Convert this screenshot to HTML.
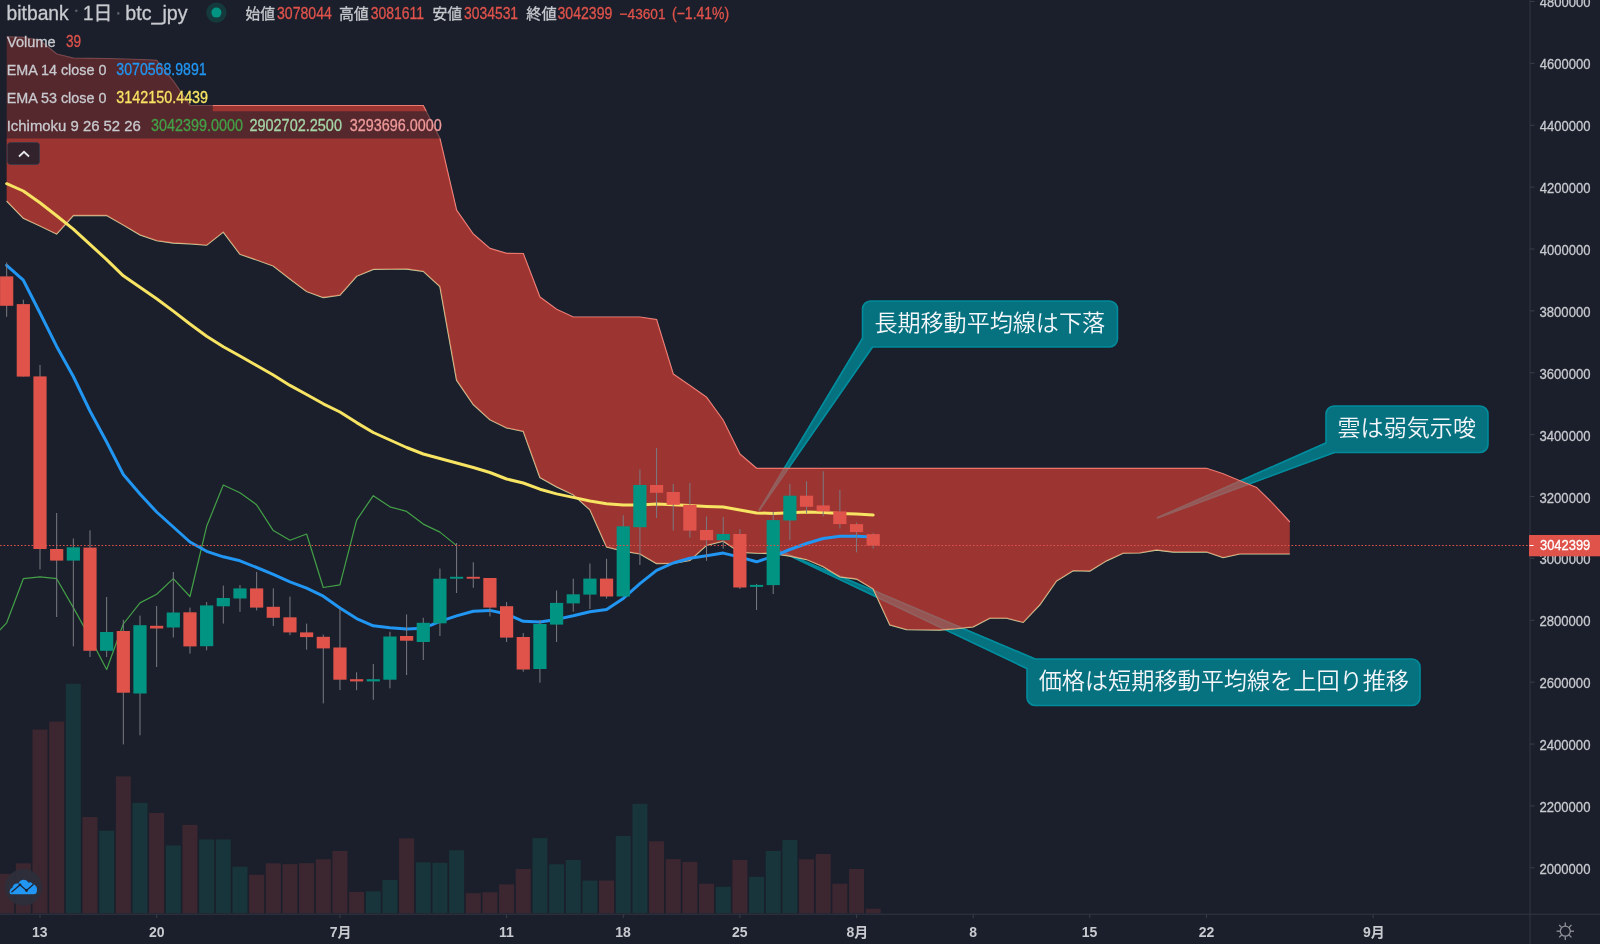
<!DOCTYPE html><html><head><meta charset="utf-8"><style>html,body{margin:0;padding:0;background:#1b1f2b;}body{width:1600px;height:944px;overflow:hidden;position:relative;}svg{position:absolute;left:0;top:0;will-change:transform;}</style></head><body>
<svg width="1600" height="944" viewBox="0 0 1600 944">
<defs><clipPath id="cp"><rect x="0" y="0" width="1529.5" height="913.5"/></clipPath></defs>
<g clip-path="url(#cp)">
<rect x="-0.83" y="873.9" width="15" height="39.6" fill="rgba(239,83,80,0.16)"/>
<rect x="15.83" y="863.3" width="15" height="50.2" fill="rgba(239,83,80,0.16)"/>
<rect x="32.5" y="729.6" width="15" height="183.9" fill="rgba(239,83,80,0.16)"/>
<rect x="49.16" y="721.6" width="15" height="191.9" fill="rgba(239,83,80,0.16)"/>
<rect x="65.83" y="683.8" width="15" height="229.7" fill="rgba(8,153,129,0.18)"/>
<rect x="82.49" y="817" width="15" height="96.5" fill="rgba(239,83,80,0.16)"/>
<rect x="99.15" y="830.7" width="15" height="82.8" fill="rgba(8,153,129,0.18)"/>
<rect x="115.82" y="776.4" width="15" height="137.1" fill="rgba(239,83,80,0.16)"/>
<rect x="132.48" y="802.9" width="15" height="110.6" fill="rgba(8,153,129,0.18)"/>
<rect x="149.15" y="813" width="15" height="100.5" fill="rgba(239,83,80,0.16)"/>
<rect x="165.81" y="845.5" width="15" height="68" fill="rgba(8,153,129,0.18)"/>
<rect x="182.47" y="824.9" width="15" height="88.6" fill="rgba(239,83,80,0.16)"/>
<rect x="199.14" y="839.4" width="15" height="74.1" fill="rgba(8,153,129,0.18)"/>
<rect x="215.8" y="839.4" width="15" height="74.1" fill="rgba(8,153,129,0.18)"/>
<rect x="232.47" y="866.7" width="15" height="46.8" fill="rgba(8,153,129,0.18)"/>
<rect x="249.13" y="874.7" width="15" height="38.8" fill="rgba(239,83,80,0.16)"/>
<rect x="265.79" y="863.3" width="15" height="50.2" fill="rgba(239,83,80,0.16)"/>
<rect x="282.46" y="864.2" width="15" height="49.3" fill="rgba(239,83,80,0.16)"/>
<rect x="299.12" y="863.2" width="15" height="50.3" fill="rgba(239,83,80,0.16)"/>
<rect x="315.79" y="859.3" width="15" height="54.2" fill="rgba(239,83,80,0.16)"/>
<rect x="332.45" y="851" width="15" height="62.5" fill="rgba(239,83,80,0.16)"/>
<rect x="349.11" y="891.9" width="15" height="21.6" fill="rgba(239,83,80,0.16)"/>
<rect x="365.78" y="891.3" width="15" height="22.2" fill="rgba(8,153,129,0.18)"/>
<rect x="382.44" y="879.9" width="15" height="33.6" fill="rgba(8,153,129,0.18)"/>
<rect x="399.11" y="838.4" width="15" height="75.1" fill="rgba(239,83,80,0.16)"/>
<rect x="415.77" y="862.3" width="15" height="51.2" fill="rgba(8,153,129,0.18)"/>
<rect x="432.43" y="862.8" width="15" height="50.7" fill="rgba(8,153,129,0.18)"/>
<rect x="449.1" y="850.3" width="15" height="63.2" fill="rgba(8,153,129,0.18)"/>
<rect x="465.76" y="893.2" width="15" height="20.3" fill="rgba(239,83,80,0.16)"/>
<rect x="482.43" y="892.3" width="15" height="21.2" fill="rgba(239,83,80,0.16)"/>
<rect x="499.09" y="884.4" width="15" height="29.1" fill="rgba(239,83,80,0.16)"/>
<rect x="515.75" y="869" width="15" height="44.5" fill="rgba(239,83,80,0.16)"/>
<rect x="532.42" y="838.1" width="15" height="75.4" fill="rgba(8,153,129,0.18)"/>
<rect x="549.08" y="864.3" width="15" height="49.2" fill="rgba(8,153,129,0.18)"/>
<rect x="565.75" y="860" width="15" height="53.5" fill="rgba(8,153,129,0.18)"/>
<rect x="582.41" y="880.6" width="15" height="32.9" fill="rgba(8,153,129,0.18)"/>
<rect x="599.07" y="880.6" width="15" height="32.9" fill="rgba(239,83,80,0.16)"/>
<rect x="615.74" y="836" width="15" height="77.5" fill="rgba(8,153,129,0.18)"/>
<rect x="632.4" y="803.8" width="15" height="109.7" fill="rgba(8,153,129,0.18)"/>
<rect x="649.07" y="841.3" width="15" height="72.2" fill="rgba(239,83,80,0.16)"/>
<rect x="665.73" y="859.1" width="15" height="54.4" fill="rgba(239,83,80,0.16)"/>
<rect x="682.39" y="861.9" width="15" height="51.6" fill="rgba(239,83,80,0.16)"/>
<rect x="699.06" y="883.8" width="15" height="29.7" fill="rgba(239,83,80,0.16)"/>
<rect x="715.72" y="886.8" width="15" height="26.7" fill="rgba(8,153,129,0.18)"/>
<rect x="732.39" y="860" width="15" height="53.5" fill="rgba(239,83,80,0.16)"/>
<rect x="749.05" y="876.9" width="15" height="36.6" fill="rgba(8,153,129,0.18)"/>
<rect x="765.71" y="851" width="15" height="62.5" fill="rgba(8,153,129,0.18)"/>
<rect x="782.38" y="839.9" width="15" height="73.6" fill="rgba(8,153,129,0.18)"/>
<rect x="799.04" y="859.3" width="15" height="54.2" fill="rgba(239,83,80,0.16)"/>
<rect x="815.71" y="854" width="15" height="59.5" fill="rgba(239,83,80,0.16)"/>
<rect x="832.37" y="883.8" width="15" height="29.7" fill="rgba(239,83,80,0.16)"/>
<rect x="849.03" y="869" width="15" height="44.5" fill="rgba(239,83,80,0.16)"/>
<rect x="865.7" y="908.8" width="15" height="4.7" fill="rgba(239,83,80,0.16)"/>
<path d="M759 510.5 L862.5 338.5 L872.5 347 Z" fill="#067280" stroke="#018b9b" stroke-width="1.6"/><rect x="862.5" y="301" width="255" height="46" rx="8" fill="#067280" stroke="#018b9b" stroke-width="1.6"/><path d="M759 510.5 L862.5 338.5 L872.5 347 Z" fill="#067280"/><path d="M862.5 338.5 L759 510.5 L872.5 347" stroke="#018b9b" stroke-width="1.6" fill="none"/>
<path d="M1157 518 L1326 443 L1334.2 452.5 Z" fill="#067280" stroke="#018b9b" stroke-width="1.6"/><rect x="1326" y="406" width="162" height="46.5" rx="8" fill="#067280" stroke="#018b9b" stroke-width="1.6"/><path d="M1157 518 L1326 443 L1334.2 452.5 Z" fill="#067280"/><path d="M1326 443 L1157 518 L1334.2 452.5" stroke="#018b9b" stroke-width="1.6" fill="none"/>
<path d="M780 551 L1035 659 L1027 668.5 Z" fill="#067280" stroke="#018b9b" stroke-width="1.6"/><rect x="1027" y="659" width="393" height="46.5" rx="8" fill="#067280" stroke="#018b9b" stroke-width="1.6"/><path d="M780 551 L1035 659 L1027 668.5 Z" fill="#067280"/><path d="M1035 659 L780 551 L1027 668.5" stroke="#018b9b" stroke-width="1.6" fill="none"/>
<polyline points="6.67,36.9 23.33,37.4 40,40.5 56.66,54 73.33,58.1 89.99,58.3 106.65,58.5 123.32,59 139.98,59.5 156.65,60.4 173.31,81 189.97,105.3 206.64,105.5 223.3,105.5 239.97,105.5 256.63,105.5 273.29,105.5 289.96,105.5 306.62,105.5 323.29,105.5 339.95,105.5 356.61,105.5 373.28,105.5 389.94,105.5 406.61,105.5 423.27,105.5 439.93,138.5 456.6,210.2 473.26,234 489.93,248.4 506.59,253.3 523.25,253.5 539.92,297 556.58,309.2 573.25,317 589.91,317 606.57,317 623.24,317 639.9,317 656.57,319.6 673.23,374 689.89,385.4 706.56,397.3 723.22,420.2 739.89,454 756.55,468.3 773.21,468.3 789.88,468.3 806.54,468.3 823.21,468.3 839.87,468.3 856.53,468.3 873.2,468.3 889.86,468.3 906.53,468.3 923.19,468.3 939.85,468.3 956.52,468.3 973.18,468.3 989.85,468.3 1006.51,468.3 1023.17,468.3 1039.84,468.3 1056.5,468.3 1073.17,468.3 1089.83,468.3 1106.49,468.3 1123.16,468.3 1139.82,468.3 1156.49,468.3 1173.15,468.3 1189.81,468.3 1206.48,468.3 1223.14,473.8 1239.81,480.8 1256.47,487.4 1273.13,503.8 1289.8,522" fill="none" stroke="#e8948e" stroke-width="1.2"/>
<polyline points="6.67,201 23.33,218.2 40,226 56.66,234 73.33,215.5 89.99,215.5 106.65,215.5 123.32,225 139.98,234.8 156.65,240.7 173.31,243 189.97,243.8 206.64,245.2 223.3,232.1 239.97,254.3 256.63,260 273.29,266 289.96,279 306.62,291.5 323.29,297.5 339.95,295.2 356.61,276.2 373.28,269.3 389.94,269.2 406.61,269 423.27,271.3 439.93,286.6 456.6,380.2 473.26,404.6 489.93,419.8 506.59,427.9 523.25,431.4 539.92,477.5 556.58,486.8 573.25,494.7 589.91,509.8 606.57,547 623.24,551.1 639.9,553.9 656.57,563.5 673.23,563.4 689.89,560.4 706.56,545.3 723.22,541.2 739.89,552.3 756.55,553.1 773.21,553.5 789.88,556 806.54,559.5 823.21,566.7 839.87,576.8 856.53,579 873.2,589 889.86,625 906.53,629.6 923.19,629.8 939.85,630 956.52,628.7 973.18,626.8 989.85,618.2 1006.51,618.2 1023.17,622.4 1039.84,604.8 1056.5,581 1073.17,570.7 1089.83,571 1106.49,560.8 1123.16,553.2 1139.82,552.9 1156.49,550 1173.15,552 1189.81,552 1206.48,552 1223.14,557.6 1239.81,553.9 1256.47,553.9 1273.13,553.9 1289.8,553.9" fill="none" stroke="#c5d6a0" stroke-width="1.3"/>
<polygon points="6.67,36.9 23.33,37.4 40,40.5 56.66,54 73.33,58.1 89.99,58.3 106.65,58.5 123.32,59 139.98,59.5 156.65,60.4 173.31,81 189.97,105.3 206.64,105.5 223.3,105.5 239.97,105.5 256.63,105.5 273.29,105.5 289.96,105.5 306.62,105.5 323.29,105.5 339.95,105.5 356.61,105.5 373.28,105.5 389.94,105.5 406.61,105.5 423.27,105.5 439.93,138.5 456.6,210.2 473.26,234 489.93,248.4 506.59,253.3 523.25,253.5 539.92,297 556.58,309.2 573.25,317 589.91,317 606.57,317 623.24,317 639.9,317 656.57,319.6 673.23,374 689.89,385.4 706.56,397.3 723.22,420.2 739.89,454 756.55,468.3 773.21,468.3 789.88,468.3 806.54,468.3 823.21,468.3 839.87,468.3 856.53,468.3 873.2,468.3 889.86,468.3 906.53,468.3 923.19,468.3 939.85,468.3 956.52,468.3 973.18,468.3 989.85,468.3 1006.51,468.3 1023.17,468.3 1039.84,468.3 1056.5,468.3 1073.17,468.3 1089.83,468.3 1106.49,468.3 1123.16,468.3 1139.82,468.3 1156.49,468.3 1173.15,468.3 1189.81,468.3 1206.48,468.3 1223.14,473.8 1239.81,480.8 1256.47,487.4 1273.13,503.8 1289.8,522 1289.8,553.9 1273.13,553.9 1256.47,553.9 1239.81,553.9 1223.14,557.6 1206.48,552 1189.81,552 1173.15,552 1156.49,550 1139.82,552.9 1123.16,553.2 1106.49,560.8 1089.83,571 1073.17,570.7 1056.5,581 1039.84,604.8 1023.17,622.4 1006.51,618.2 989.85,618.2 973.18,626.8 956.52,628.7 939.85,630 923.19,629.8 906.53,629.6 889.86,625 873.2,589 856.53,579 839.87,576.8 823.21,566.7 806.54,559.5 789.88,556 773.21,553.5 756.55,553.1 739.89,552.3 723.22,541.2 706.56,545.3 689.89,560.4 673.23,563.4 656.57,563.5 639.9,553.9 623.24,551.1 606.57,547 589.91,509.8 573.25,494.7 556.58,486.8 539.92,477.5 523.25,431.4 506.59,427.9 489.93,419.8 473.26,404.6 456.6,380.2 439.93,286.6 423.27,271.3 406.61,269 389.94,269.2 373.28,269.3 356.61,276.2 339.95,295.2 323.29,297.5 306.62,291.5 289.96,279 273.29,266 256.63,260 239.97,254.3 223.3,232.1 206.64,245.2 189.97,243.8 173.31,243 156.65,240.7 139.98,234.8 123.32,225 106.65,215.5 89.99,215.5 73.33,215.5 56.66,234 40,226 23.33,218.2 6.67,201" fill="rgba(244,67,54,0.6)"/>
<polyline points="-9.99,640.7 6.67,622.8 23.33,578.7 40,576.8 56.66,578.7 73.33,607.6 89.99,637.6 106.65,669.5 123.32,624 139.98,602.9 156.65,594.3 173.31,578.6 189.97,596.5 206.64,526.3 223.3,485 239.97,492.8 256.63,504.8 273.29,530.6 289.96,540.2 306.62,534 323.29,587.5 339.95,584.9 356.61,520.1 373.28,495.7 389.94,506.8 406.61,511.4 423.27,524.1 439.93,532.1 456.6,545.6" fill="none" stroke="#43a047" stroke-width="1.2" stroke-linejoin="round"/>
<polyline points="6.67,265.3 23.33,280.2 40,313 56.66,346.4 73.33,376.5 89.99,411 106.65,442 123.32,474.5 139.98,494 156.65,512 173.31,527 189.97,542 206.64,551.3 223.3,556.8 239.97,560.8 256.63,567.5 273.29,574.4 289.96,581.8 306.62,588.2 323.29,596.2 339.95,608 356.61,618.6 373.28,625.8 389.94,627.7 406.61,629.1 423.27,628.3 439.93,621.4 456.6,615.9 473.26,611.2 489.93,610.4 506.59,614 523.25,621.3 539.92,621.9 556.58,619.4 573.25,615.8 589.91,611.7 606.57,609.5 623.24,598.5 639.9,583.6 656.57,570.4 673.23,563 689.89,558.3 706.56,555.7 723.22,553.1 739.89,557.1 756.55,561.8 773.21,556.3 789.88,549.5 806.54,543.5 823.21,538.5 839.87,536.3 856.53,536.2 873.2,537" fill="none" stroke="#2196f3" stroke-width="3" stroke-linejoin="round" stroke-linecap="round"/>
<polyline points="6.67,183.7 23.33,191 40,202.8 56.66,215.8 73.33,229.1 89.99,244.4 106.65,259.6 123.32,275.8 139.98,287.3 156.65,298.7 173.31,311.1 189.97,324 206.64,336.2 223.3,346.7 239.97,356 256.63,365.5 273.29,375 289.96,385.4 306.62,394.5 323.29,403.8 339.95,412 356.61,422.6 373.28,432.5 389.94,440 406.61,447.5 423.27,454 439.93,458.5 456.6,463 473.26,467.5 489.93,472.5 506.59,479 523.25,483 539.92,489.2 556.58,493.9 573.25,497.4 589.91,501 606.57,503.8 623.24,505.1 639.9,504.9 656.57,504 673.23,504.8 689.89,505.6 706.56,506.4 723.22,507 739.89,510 756.55,512.9 773.21,513.5 789.88,512.8 806.54,512 823.21,512.4 839.87,513.4 856.53,514 873.2,515" fill="none" stroke="#f7e463" stroke-width="3" stroke-linejoin="round" stroke-linecap="round"/>
<g>
<rect x="6.17" y="262.5" width="1" height="54.3" fill="#7a7b80"/>
<rect x="22.83" y="299.7" width="1" height="76.9" fill="#7a7b80"/>
<rect x="39.5" y="365" width="1" height="204.4" fill="#7a7b80"/>
<rect x="56.16" y="513" width="1" height="104" fill="#7a7b80"/>
<rect x="72.83" y="538.5" width="1" height="107.9" fill="#7a7b80"/>
<rect x="89.49" y="530.3" width="1" height="126.7" fill="#7a7b80"/>
<rect x="106.15" y="597" width="1" height="60" fill="#7a7b80"/>
<rect x="122.82" y="619.7" width="1" height="124.7" fill="#7a7b80"/>
<rect x="139.48" y="615.6" width="1" height="119.7" fill="#7a7b80"/>
<rect x="156.15" y="606" width="1" height="61" fill="#7a7b80"/>
<rect x="172.81" y="572" width="1" height="65.5" fill="#7a7b80"/>
<rect x="189.47" y="607.6" width="1" height="46" fill="#7a7b80"/>
<rect x="206.14" y="602" width="1" height="48.3" fill="#7a7b80"/>
<rect x="222.8" y="585.6" width="1" height="38" fill="#7a7b80"/>
<rect x="239.47" y="585" width="1" height="26.8" fill="#7a7b80"/>
<rect x="256.13" y="571.8" width="1" height="38.6" fill="#7a7b80"/>
<rect x="272.79" y="588.4" width="1" height="37.6" fill="#7a7b80"/>
<rect x="289.46" y="596.6" width="1" height="38.6" fill="#7a7b80"/>
<rect x="306.12" y="623.6" width="1" height="26.1" fill="#7a7b80"/>
<rect x="322.79" y="634.6" width="1" height="68.8" fill="#7a7b80"/>
<rect x="339.45" y="608.6" width="1" height="81.5" fill="#7a7b80"/>
<rect x="356.11" y="672.3" width="1" height="17.9" fill="#7a7b80"/>
<rect x="372.78" y="664" width="1" height="35.8" fill="#7a7b80"/>
<rect x="389.44" y="631.8" width="1" height="56.5" fill="#7a7b80"/>
<rect x="406.11" y="614.5" width="1" height="60.5" fill="#7a7b80"/>
<rect x="422.77" y="617.8" width="1" height="42.2" fill="#7a7b80"/>
<rect x="439.43" y="568.5" width="1" height="67.5" fill="#7a7b80"/>
<rect x="456.1" y="543" width="1" height="50" fill="#7a7b80"/>
<rect x="472.76" y="562.2" width="1" height="25.6" fill="#7a7b80"/>
<rect x="489.43" y="578" width="1" height="38.4" fill="#7a7b80"/>
<rect x="506.09" y="602" width="1" height="40" fill="#7a7b80"/>
<rect x="522.75" y="633.1" width="1" height="38.6" fill="#7a7b80"/>
<rect x="539.42" y="620" width="1" height="62.7" fill="#7a7b80"/>
<rect x="556.08" y="590.5" width="1" height="51.5" fill="#7a7b80"/>
<rect x="572.75" y="578.6" width="1" height="33.1" fill="#7a7b80"/>
<rect x="589.41" y="563.5" width="1" height="45.5" fill="#7a7b80"/>
<rect x="606.07" y="558.8" width="1" height="39.7" fill="#7a7b80"/>
<rect x="622.74" y="515.3" width="1" height="81.2" fill="#7a7b80"/>
<rect x="639.4" y="469.4" width="1" height="95.5" fill="#7a7b80"/>
<rect x="656.07" y="447.9" width="1" height="70.1" fill="#7a7b80"/>
<rect x="672.73" y="483.8" width="1" height="46.8" fill="#7a7b80"/>
<rect x="689.39" y="482.9" width="1" height="54.7" fill="#7a7b80"/>
<rect x="706.06" y="516.5" width="1" height="44.3" fill="#7a7b80"/>
<rect x="722.72" y="516.9" width="1" height="31.8" fill="#7a7b80"/>
<rect x="739.39" y="529.2" width="1" height="59.8" fill="#7a7b80"/>
<rect x="756.05" y="583.9" width="1" height="26.1" fill="#7a7b80"/>
<rect x="772.71" y="511.5" width="1" height="82.5" fill="#7a7b80"/>
<rect x="789.38" y="483.9" width="1" height="56.3" fill="#7a7b80"/>
<rect x="806.04" y="481.2" width="1" height="32.2" fill="#7a7b80"/>
<rect x="822.71" y="471.2" width="1" height="45.2" fill="#7a7b80"/>
<rect x="839.37" y="489.9" width="1" height="38.6" fill="#7a7b80"/>
<rect x="856.03" y="522.5" width="1" height="29.8" fill="#7a7b80"/>
<rect x="872.7" y="533" width="1" height="15.6" fill="#7a7b80"/>
<rect x="0.07" y="276.4" width="13.2" height="29.4" fill="#e0534b"/>
<rect x="16.73" y="304.1" width="13.2" height="72.5" fill="#e0534b"/>
<rect x="33.4" y="376.4" width="13.2" height="172.6" fill="#e0534b"/>
<rect x="50.06" y="549" width="13.2" height="11.6" fill="#e0534b"/>
<rect x="66.73" y="547.3" width="13.2" height="13.3" fill="#029482"/>
<rect x="83.39" y="547.6" width="13.2" height="103.2" fill="#e0534b"/>
<rect x="100.05" y="632" width="13.2" height="18.8" fill="#029482"/>
<rect x="116.72" y="631" width="13.2" height="61.7" fill="#e0534b"/>
<rect x="133.38" y="625.2" width="13.2" height="68.3" fill="#029482"/>
<rect x="150.05" y="625.8" width="13.2" height="2.7" fill="#e0534b"/>
<rect x="166.71" y="612.5" width="13.2" height="15" fill="#029482"/>
<rect x="183.37" y="612.3" width="13.2" height="34.1" fill="#e0534b"/>
<rect x="200.04" y="605.4" width="13.2" height="40.8" fill="#029482"/>
<rect x="216.7" y="598" width="13.2" height="8.3" fill="#029482"/>
<rect x="233.37" y="588.4" width="13.2" height="10.1" fill="#029482"/>
<rect x="250.03" y="588.4" width="13.2" height="19.2" fill="#e0534b"/>
<rect x="266.69" y="606.8" width="13.2" height="11" fill="#e0534b"/>
<rect x="283.36" y="617.3" width="13.2" height="15.1" fill="#e0534b"/>
<rect x="300.02" y="632.4" width="13.2" height="4.7" fill="#e0534b"/>
<rect x="316.69" y="636.8" width="13.2" height="11.6" fill="#e0534b"/>
<rect x="333.35" y="647.5" width="13.2" height="32.2" fill="#e0534b"/>
<rect x="350.01" y="679.2" width="13.2" height="2.2" fill="#e0534b"/>
<rect x="366.68" y="679.2" width="13.2" height="2.2" fill="#029482"/>
<rect x="383.34" y="636.5" width="13.2" height="43.2" fill="#029482"/>
<rect x="400.01" y="636" width="13.2" height="4.7" fill="#e0534b"/>
<rect x="416.67" y="622.8" width="13.2" height="19.2" fill="#029482"/>
<rect x="433.33" y="578.7" width="13.2" height="44.6" fill="#029482"/>
<rect x="450" y="576.8" width="13.2" height="1.9" fill="#029482"/>
<rect x="466.66" y="576.8" width="13.2" height="1.9" fill="#e0534b"/>
<rect x="483.33" y="578" width="13.2" height="29.6" fill="#e0534b"/>
<rect x="499.99" y="606.2" width="13.2" height="31.4" fill="#e0534b"/>
<rect x="516.65" y="637" width="13.2" height="32.5" fill="#e0534b"/>
<rect x="533.32" y="624" width="13.2" height="45" fill="#029482"/>
<rect x="549.98" y="602.9" width="13.2" height="21.7" fill="#029482"/>
<rect x="566.65" y="594.3" width="13.2" height="9.1" fill="#029482"/>
<rect x="583.31" y="578.6" width="13.2" height="16" fill="#029482"/>
<rect x="599.97" y="578.6" width="13.2" height="17.9" fill="#e0534b"/>
<rect x="616.64" y="526.3" width="13.2" height="70.2" fill="#029482"/>
<rect x="633.3" y="485" width="13.2" height="42.2" fill="#029482"/>
<rect x="649.97" y="485" width="13.2" height="7.8" fill="#e0534b"/>
<rect x="666.63" y="492" width="13.2" height="12.8" fill="#e0534b"/>
<rect x="683.29" y="504.8" width="13.2" height="25.8" fill="#e0534b"/>
<rect x="699.96" y="530" width="13.2" height="10.2" fill="#e0534b"/>
<rect x="716.62" y="534" width="13.2" height="6.2" fill="#029482"/>
<rect x="733.29" y="534" width="13.2" height="53.5" fill="#e0534b"/>
<rect x="749.95" y="584.9" width="13.2" height="2" fill="#029482"/>
<rect x="766.61" y="520.1" width="13.2" height="65" fill="#029482"/>
<rect x="783.28" y="495.7" width="13.2" height="24.8" fill="#029482"/>
<rect x="799.94" y="495.7" width="13.2" height="11.1" fill="#e0534b"/>
<rect x="816.61" y="505.4" width="13.2" height="6" fill="#e0534b"/>
<rect x="833.27" y="511.4" width="13.2" height="12.7" fill="#e0534b"/>
<rect x="849.93" y="524.1" width="13.2" height="8" fill="#e0534b"/>
<rect x="866.6" y="534.1" width="13.2" height="11.5" fill="#e0534b"/>
</g>
<line x1="0" y1="545.5" x2="1530" y2="545.5" stroke="#e0534b" stroke-width="1.1" stroke-dasharray="1.6 1.9"/>
<path d="M4 28.5 H85 V56 H212 V83.8 H212.8 V111.3 H445 V138.6 H4 Z" fill="rgba(27,31,43,0.55)"/>
</g>
<rect x="7.5" y="142.5" width="32" height="22" rx="3" fill="rgba(27,31,43,0.82)" stroke="rgba(54,60,78,0.8)" stroke-width="1"/>
<path d="M19,156.5 L24,151.8 L29,156.5" stroke="#e6e8ee" stroke-width="1.8" fill="none"/>
<rect x="1529.5" y="0" width="1" height="944" fill="#333744"/>
<rect x="0" y="913.7" width="1600" height="1" fill="#333744"/>
<rect x="1530" y="0.98" width="4.5" height="1" fill="#3a3e4a"/>
<rect x="1530" y="62.86" width="4.5" height="1" fill="#3a3e4a"/>
<rect x="1530" y="124.74" width="4.5" height="1" fill="#3a3e4a"/>
<rect x="1530" y="186.62" width="4.5" height="1" fill="#3a3e4a"/>
<rect x="1530" y="248.5" width="4.5" height="1" fill="#3a3e4a"/>
<rect x="1530" y="310.38" width="4.5" height="1" fill="#3a3e4a"/>
<rect x="1530" y="372.26" width="4.5" height="1" fill="#3a3e4a"/>
<rect x="1530" y="434.14" width="4.5" height="1" fill="#3a3e4a"/>
<rect x="1530" y="496.02" width="4.5" height="1" fill="#3a3e4a"/>
<rect x="1530" y="557.9" width="4.5" height="1" fill="#3a3e4a"/>
<rect x="1530" y="619.78" width="4.5" height="1" fill="#3a3e4a"/>
<rect x="1530" y="681.66" width="4.5" height="1" fill="#3a3e4a"/>
<rect x="1530" y="743.54" width="4.5" height="1" fill="#3a3e4a"/>
<rect x="1530" y="805.42" width="4.5" height="1" fill="#3a3e4a"/>
<rect x="1530" y="867.3" width="4.5" height="1" fill="#3a3e4a"/>
<rect x="39.5" y="914.5" width="1" height="3.5" fill="#3a3e4a"/>
<rect x="156.15" y="914.5" width="1" height="3.5" fill="#3a3e4a"/>
<rect x="339.45" y="914.5" width="1" height="3.5" fill="#3a3e4a"/>
<rect x="506.09" y="914.5" width="1" height="3.5" fill="#3a3e4a"/>
<rect x="622.74" y="914.5" width="1" height="3.5" fill="#3a3e4a"/>
<rect x="739.39" y="914.5" width="1" height="3.5" fill="#3a3e4a"/>
<rect x="856.03" y="914.5" width="1" height="3.5" fill="#3a3e4a"/>
<rect x="972.68" y="914.5" width="1" height="3.5" fill="#3a3e4a"/>
<rect x="1089.33" y="914.5" width="1" height="3.5" fill="#3a3e4a"/>
<rect x="1205.98" y="914.5" width="1" height="3.5" fill="#3a3e4a"/>
<rect x="1372.62" y="914.5" width="1" height="3.5" fill="#3a3e4a"/>
<circle cx="76.3" cy="10.8" r="1.3" fill="#5d606b"/><circle cx="118.3" cy="13.4" r="1.3" fill="#5d606b"/>
<circle cx="216.4" cy="12.6" r="10.2" fill="#153a3d"/><circle cx="216.4" cy="12.6" r="5" fill="#029482"/>
<g transform="translate(1565.3,931.2)" stroke="#8f9198" stroke-width="1.3" fill="none"><circle r="5"/><line x1="5" y1="0" x2="8.7" y2="0"/><line x1="3.54" y1="3.54" x2="6.15" y2="6.15"/><line x1="0" y1="5" x2="0" y2="8.7"/><line x1="-3.54" y1="3.54" x2="-6.15" y2="6.15"/><line x1="-5" y1="0" x2="-8.7" y2="0"/><line x1="-3.54" y1="-3.54" x2="-6.15" y2="-6.15"/><line x1="-0" y1="-5" x2="-0" y2="-8.7"/><line x1="3.54" y1="-3.54" x2="6.15" y2="-6.15"/></g>
<g transform="translate(23.5,887.3)"><circle r="18.4" fill="#2c2f3b" fill-opacity="0.95"/>
<path d="M-12.5,7 C-14.5,7 -14.5,1.5 -11,0.2 C-10.5,-3.5 -7,-4.5 -5,-3.5 C-4,-8.5 3,-9 5,-4.5 C6,-5.5 8,-5.5 9,-3.5 C12,-2.5 14,0 13.5,3 C13.5,6 12,7 10,7 Z" fill="#2196f3"/>
<path d="M-12,5 L-3.5,-2.5 L3,3.2 L10,-3" stroke="#1e222d" stroke-width="1.3" fill="none"/>
<circle cx="-3.5" cy="-2.5" r="1.4" fill="#1e222d"/><circle cx="3" cy="3.2" r="1.4" fill="#1e222d"/></g>
<text x="6.6" y="19.9" font-family='"Liberation Sans"' font-size="19.3" font-weight="normal" fill="#c8cacf" stroke="#c8cacf" stroke-width="0.3" textLength="62.12" lengthAdjust="spacingAndGlyphs">bitbank</text>
<text x="83.05" y="19.9" font-family='"Liberation Sans","Noto Sans CJK JP"' font-size="19.5" font-weight="normal" fill="#c8cacf" stroke="#c8cacf" stroke-width="0.3" textLength="29.25" lengthAdjust="spacingAndGlyphs">1日</text>
<text x="125.28" y="19.9" font-family='"Liberation Sans"' font-size="19.3" font-weight="normal" fill="#c8cacf" stroke="#c8cacf" stroke-width="0.3" textLength="62.39" lengthAdjust="spacingAndGlyphs">btc_jpy</text>
<text x="245.59" y="19.3" font-family='"Liberation Sans","Noto Sans CJK JP"' font-size="15" font-weight="normal" fill="#c8cacf" stroke="#c8cacf" stroke-width="0.3" textLength="29.43" lengthAdjust="spacingAndGlyphs">始値</text>
<text x="276.97" y="18.7" font-family='"Liberation Sans"' font-size="16.5" font-weight="normal" fill="#e0534b" stroke="#e0534b" stroke-width="0.3" textLength="54.85" lengthAdjust="spacingAndGlyphs">3078044</text>
<text x="338.9" y="19.3" font-family='"Liberation Sans","Noto Sans CJK JP"' font-size="15" font-weight="normal" fill="#c8cacf" stroke="#c8cacf" stroke-width="0.3" textLength="29.92" lengthAdjust="spacingAndGlyphs">高値</text>
<text x="370.77" y="18.7" font-family='"Liberation Sans"' font-size="16.5" font-weight="normal" fill="#e0534b" stroke="#e0534b" stroke-width="0.3" textLength="53.27" lengthAdjust="spacingAndGlyphs">3081611</text>
<text x="432.54" y="19.3" font-family='"Liberation Sans","Noto Sans CJK JP"' font-size="15" font-weight="normal" fill="#c8cacf" stroke="#c8cacf" stroke-width="0.3" textLength="29.58" lengthAdjust="spacingAndGlyphs">安値</text>
<text x="463.97" y="18.7" font-family='"Liberation Sans"' font-size="16.5" font-weight="normal" fill="#e0534b" stroke="#e0534b" stroke-width="0.3" textLength="54.15" lengthAdjust="spacingAndGlyphs">3034531</text>
<text x="526.22" y="19.3" font-family='"Liberation Sans","Noto Sans CJK JP"' font-size="15" font-weight="normal" fill="#c8cacf" stroke="#c8cacf" stroke-width="0.3" textLength="30.52" lengthAdjust="spacingAndGlyphs">終値</text>
<text x="557.47" y="18.7" font-family='"Liberation Sans"' font-size="16.5" font-weight="normal" fill="#e0534b" stroke="#e0534b" stroke-width="0.3" textLength="54.86" lengthAdjust="spacingAndGlyphs">3042399</text>
<text x="619.62" y="19.3" font-family='"Liberation Sans","Noto Sans CJK JP"' font-size="15" font-weight="normal" fill="#e0534b" stroke="#e0534b" stroke-width="0.3" textLength="45.94" lengthAdjust="spacingAndGlyphs">−43601</text>
<text x="672.05" y="18.7" font-family='"Liberation Sans"' font-size="16.5" font-weight="normal" fill="#e0534b" stroke="#e0534b" stroke-width="0.3" textLength="57.12" lengthAdjust="spacingAndGlyphs">(−1.41%)</text>
<text x="7.08" y="46.75" font-family='"Liberation Sans"' font-size="15" font-weight="normal" fill="#c8cacf" stroke="#c8cacf" stroke-width="0.3" textLength="48.56" lengthAdjust="spacingAndGlyphs">Volume</text>
<text x="66.03" y="46.75" font-family='"Liberation Sans"' font-size="16.5" font-weight="normal" fill="#e0534b" stroke="#e0534b" stroke-width="0.3" textLength="15.17" lengthAdjust="spacingAndGlyphs">39</text>
<text x="6.71" y="74.8" font-family='"Liberation Sans"' font-size="15" font-weight="normal" fill="#c8cacf" stroke="#c8cacf" stroke-width="0.3" textLength="99.71" lengthAdjust="spacingAndGlyphs">EMA 14 close 0</text>
<text x="116.37" y="74.8" font-family='"Liberation Sans"' font-size="16.5" font-weight="normal" fill="#2196f3" stroke="#2196f3" stroke-width="0.3" textLength="90.3" lengthAdjust="spacingAndGlyphs">3070568.9891</text>
<text x="6.71" y="102.8" font-family='"Liberation Sans"' font-size="15" font-weight="normal" fill="#c8cacf" stroke="#c8cacf" stroke-width="0.3" textLength="99.71" lengthAdjust="spacingAndGlyphs">EMA 53 close 0</text>
<text x="116.36" y="102.8" font-family='"Liberation Sans"' font-size="16.5" font-weight="normal" fill="#f7e463" stroke="#f7e463" stroke-width="0.3" textLength="91.72" lengthAdjust="spacingAndGlyphs">3142150.4439</text>
<text x="6.73" y="130.6" font-family='"Liberation Sans"' font-size="15" font-weight="normal" fill="#c8cacf" stroke="#c8cacf" stroke-width="0.3" textLength="134.15" lengthAdjust="spacingAndGlyphs">Ichimoku 9 26 52 26</text>
<text x="151.01" y="130.6" font-family='"Liberation Sans"' font-size="16.5" font-weight="normal" fill="#43a047" stroke="#43a047" stroke-width="0.3" textLength="91.96" lengthAdjust="spacingAndGlyphs">3042399.0000</text>
<text x="249.44" y="130.6" font-family='"Liberation Sans"' font-size="16.5" font-weight="normal" fill="#a5d6a7" stroke="#a5d6a7" stroke-width="0.3" textLength="92.53" lengthAdjust="spacingAndGlyphs">2902702.2500</text>
<text x="349.76" y="130.6" font-family='"Liberation Sans"' font-size="16.5" font-weight="normal" fill="#ef9a9a" stroke="#ef9a9a" stroke-width="0.3" textLength="91.91" lengthAdjust="spacingAndGlyphs">3293696.0000</text>
<text x="1539.77" y="7.48" font-family='"Liberation Sans"' font-size="15" font-weight="normal" fill="#c8cacf" stroke="#c8cacf" stroke-width="0.3" textLength="50.68" lengthAdjust="spacingAndGlyphs">4800000</text>
<text x="1539.77" y="69.36" font-family='"Liberation Sans"' font-size="15" font-weight="normal" fill="#c8cacf" stroke="#c8cacf" stroke-width="0.3" textLength="50.68" lengthAdjust="spacingAndGlyphs">4600000</text>
<text x="1539.77" y="131.24" font-family='"Liberation Sans"' font-size="15" font-weight="normal" fill="#c8cacf" stroke="#c8cacf" stroke-width="0.3" textLength="50.68" lengthAdjust="spacingAndGlyphs">4400000</text>
<text x="1539.77" y="193.12" font-family='"Liberation Sans"' font-size="15" font-weight="normal" fill="#c8cacf" stroke="#c8cacf" stroke-width="0.3" textLength="50.68" lengthAdjust="spacingAndGlyphs">4200000</text>
<text x="1539.77" y="255" font-family='"Liberation Sans"' font-size="15" font-weight="normal" fill="#c8cacf" stroke="#c8cacf" stroke-width="0.3" textLength="50.68" lengthAdjust="spacingAndGlyphs">4000000</text>
<text x="1539.56" y="316.88" font-family='"Liberation Sans"' font-size="15" font-weight="normal" fill="#c8cacf" stroke="#c8cacf" stroke-width="0.3" textLength="50.9" lengthAdjust="spacingAndGlyphs">3800000</text>
<text x="1539.56" y="378.76" font-family='"Liberation Sans"' font-size="15" font-weight="normal" fill="#c8cacf" stroke="#c8cacf" stroke-width="0.3" textLength="50.9" lengthAdjust="spacingAndGlyphs">3600000</text>
<text x="1539.56" y="440.64" font-family='"Liberation Sans"' font-size="15" font-weight="normal" fill="#c8cacf" stroke="#c8cacf" stroke-width="0.3" textLength="50.9" lengthAdjust="spacingAndGlyphs">3400000</text>
<text x="1539.56" y="502.52" font-family='"Liberation Sans"' font-size="15" font-weight="normal" fill="#c8cacf" stroke="#c8cacf" stroke-width="0.3" textLength="50.9" lengthAdjust="spacingAndGlyphs">3200000</text>
<text x="1539.56" y="564.4" font-family='"Liberation Sans"' font-size="15" font-weight="normal" fill="#c8cacf" stroke="#c8cacf" stroke-width="0.3" textLength="50.9" lengthAdjust="spacingAndGlyphs">3000000</text>
<text x="1539.44" y="626.28" font-family='"Liberation Sans"' font-size="15" font-weight="normal" fill="#c8cacf" stroke="#c8cacf" stroke-width="0.3" textLength="51.01" lengthAdjust="spacingAndGlyphs">2800000</text>
<text x="1539.44" y="688.16" font-family='"Liberation Sans"' font-size="15" font-weight="normal" fill="#c8cacf" stroke="#c8cacf" stroke-width="0.3" textLength="51.01" lengthAdjust="spacingAndGlyphs">2600000</text>
<text x="1539.44" y="750.04" font-family='"Liberation Sans"' font-size="15" font-weight="normal" fill="#c8cacf" stroke="#c8cacf" stroke-width="0.3" textLength="51.01" lengthAdjust="spacingAndGlyphs">2400000</text>
<text x="1539.44" y="811.92" font-family='"Liberation Sans"' font-size="15" font-weight="normal" fill="#c8cacf" stroke="#c8cacf" stroke-width="0.3" textLength="51.01" lengthAdjust="spacingAndGlyphs">2200000</text>
<text x="1539.44" y="873.8" font-family='"Liberation Sans"' font-size="15" font-weight="normal" fill="#c8cacf" stroke="#c8cacf" stroke-width="0.3" textLength="51.01" lengthAdjust="spacingAndGlyphs">2000000</text>
<text x="32" y="937.3" font-family='"Liberation Sans","Noto Sans CJK JP"' font-size="14" font-weight="bold" fill="#c8cacf" stroke="#c8cacf" stroke-width="0">13</text>
<text x="148.9" y="937.3" font-family='"Liberation Sans","Noto Sans CJK JP"' font-size="14" font-weight="bold" fill="#c8cacf" stroke="#c8cacf" stroke-width="0">20</text>
<text x="329.83" y="937.3" font-family='"Liberation Sans","Noto Sans CJK JP"' font-size="14" font-weight="bold" fill="#c8cacf" stroke="#c8cacf" stroke-width="0">7月</text>
<text x="498.97" y="937.3" font-family='"Liberation Sans","Noto Sans CJK JP"' font-size="14" font-weight="bold" fill="#c8cacf" stroke="#c8cacf" stroke-width="0">11</text>
<text x="615.24" y="937.3" font-family='"Liberation Sans","Noto Sans CJK JP"' font-size="14" font-weight="bold" fill="#c8cacf" stroke="#c8cacf" stroke-width="0">18</text>
<text x="732.01" y="937.3" font-family='"Liberation Sans","Noto Sans CJK JP"' font-size="14" font-weight="bold" fill="#c8cacf" stroke="#c8cacf" stroke-width="0">25</text>
<text x="846.53" y="937.3" font-family='"Liberation Sans","Noto Sans CJK JP"' font-size="14" font-weight="bold" fill="#c8cacf" stroke="#c8cacf" stroke-width="0">8月</text>
<text x="969.31" y="937.3" font-family='"Liberation Sans","Noto Sans CJK JP"' font-size="14" font-weight="bold" fill="#c8cacf" stroke="#c8cacf" stroke-width="0">8</text>
<text x="1081.77" y="937.3" font-family='"Liberation Sans","Noto Sans CJK JP"' font-size="14" font-weight="bold" fill="#c8cacf" stroke="#c8cacf" stroke-width="0">15</text>
<text x="1198.73" y="937.3" font-family='"Liberation Sans","Noto Sans CJK JP"' font-size="14" font-weight="bold" fill="#c8cacf" stroke="#c8cacf" stroke-width="0">22</text>
<text x="1363.06" y="937.3" font-family='"Liberation Sans","Noto Sans CJK JP"' font-size="14" font-weight="bold" fill="#c8cacf" stroke="#c8cacf" stroke-width="0">9月</text>
<text x="874.42" y="331.07" font-family='"Noto Sans CJK JP"' font-size="22.5" font-weight="350" fill="#f4f6fa" stroke="#f4f6fa" stroke-width="0" textLength="230.65" lengthAdjust="spacingAndGlyphs">長期移動平均線は下落</text>
<text x="1337.52" y="436.18" font-family='"Noto Sans CJK JP"' font-size="22.5" font-weight="350" fill="#f4f6fa" stroke="#f4f6fa" stroke-width="0" textLength="138.52" lengthAdjust="spacingAndGlyphs">雲は弱気示唆</text>
<text x="1038.69" y="689.17" font-family='"Noto Sans CJK JP"' font-size="22.5" font-weight="350" fill="#f4f6fa" stroke="#f4f6fa" stroke-width="0" textLength="370.31" lengthAdjust="spacingAndGlyphs">価格は短期移動平均線を上回り推移</text>
<rect x="1529" y="535" width="71" height="21.3" fill="#e0534b"/>
<rect x="1529.5" y="545" width="4" height="1" fill="#ffffff"/>
<text x="1540.01" y="550.3" font-family='"Liberation Sans"' font-size="15" font-weight="normal" fill="#ffffff" stroke="#ffffff" stroke-width="0.3" textLength="50.24" lengthAdjust="spacingAndGlyphs">3042399</text>
</svg></body></html>
